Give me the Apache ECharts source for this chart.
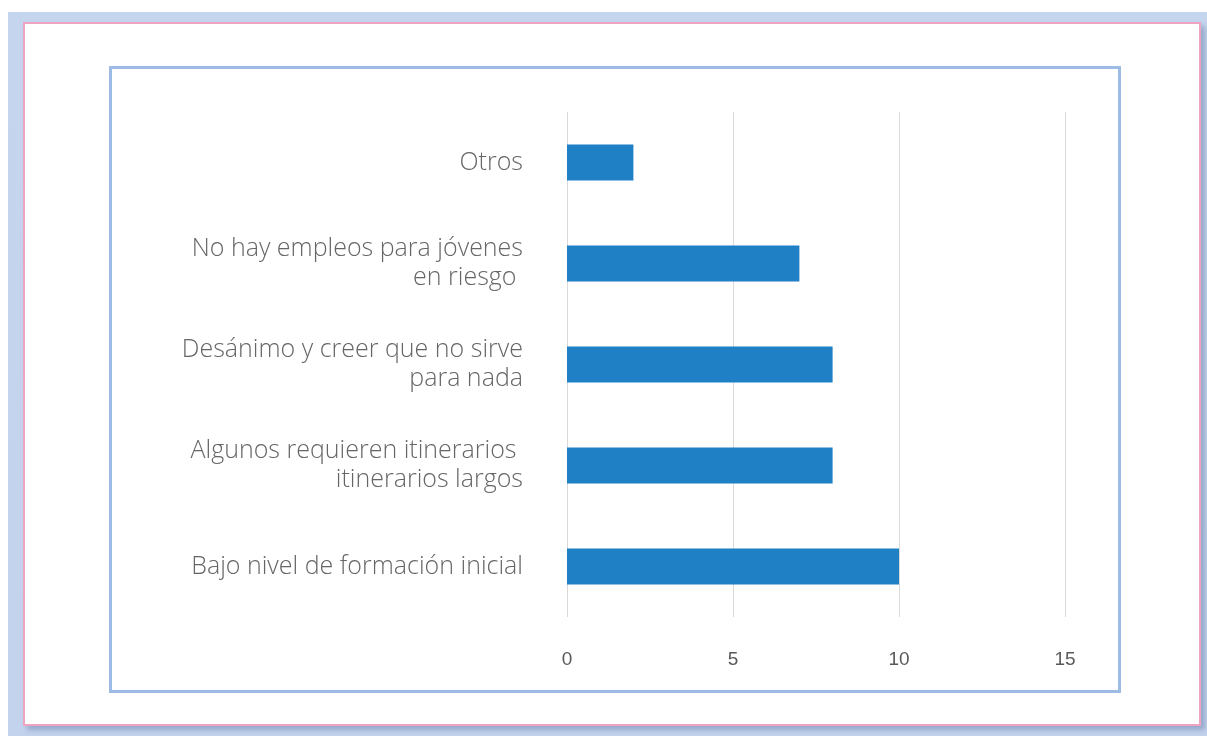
<!DOCTYPE html>
<html><head><meta charset="utf-8">
<script src="https://cdn.jsdelivr.net/npm/echarts@6/dist/echarts.min.js"></script>
<style>
html,body{margin:0;padding:0;width:1207px;height:736px;background:#fff;overflow:hidden;}
#outer{position:absolute;left:8px;top:12px;width:1199px;height:724px;background:linear-gradient(180deg,#c6d5ee 0%,#c3d3ed 100%);}
#panel{position:absolute;left:23px;top:22px;width:1174px;height:700px;background:#fff;border:2px solid #efa3c3;box-shadow:4px 4px 5px rgba(120,140,180,0.6);}
#box{position:absolute;left:109px;top:66px;width:1006px;height:621px;border:3px solid #9dbce5;background:#fff;}
#chart{position:absolute;left:0;top:0;width:1207px;height:736px;}
</style></head>
<body>
<div id="outer"></div><div id="panel"></div><div id="box"></div>
<div id="chart"></div>
<script>
const categories = [
  'Bajo nivel de formación inicial',
  'Algunos requieren itinerarios \nitinerarios largos',
  'Desánimo y creer que no sirve\npara nada',
  'No hay empleos para jóvenes\nen riesgo ',
  'Otros'
];
const values = [10, 8, 8, 7, 2];
const xTicks = [0, 5, 10, 15];

const chart = echarts.init(document.getElementById('chart'), null, {renderer:'canvas'});
chart.setOption({
  backgroundColor: 'transparent',
  animation: false,
  grid: {left: 567, right: 142, top: 112, bottom: 119, containLabel: false},
  xAxis: {
    type: 'value', min: xTicks[0], max: xTicks[xTicks.length-1], interval: 5,
    axisLine: {show:false}, axisTick: {show:false},
    splitLine: {show:true, lineStyle:{color:'#d9d9d9', width:1}},
    axisLabel: {color:'#595959', fontSize:19, fontFamily:'Liberation Sans, sans-serif', margin:33}
  },
  yAxis: {
    type: 'category', data: categories,
    axisLine: {show:false}, axisTick: {show:false},
    axisLabel: {color:'#666666', fontSize:25, fontFamily:'Open Sans, Noto Sans, sans-serif', fontWeight:300, margin:44, lineHeight:29, align:'right', verticalAlign:'middle', padding:[8,0,0,0]}
  },
  series: [{
    type: 'bar', data: values, barWidth: 36,
    itemStyle: {color:'#1f80c6'}
  }]
});
</script>
</body></html>
